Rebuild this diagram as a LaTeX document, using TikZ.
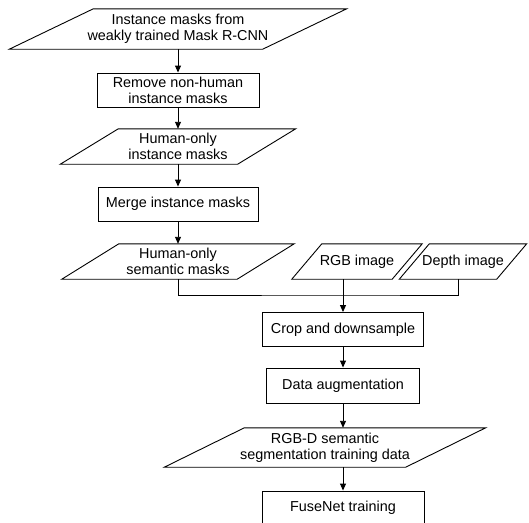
\documentclass[tikz,border=0pt]{standalone}
\usepackage{fontspec}
\setmainfont{Liberation Sans}
\usetikzlibrary{arrows.meta}

\begin{document}
\begin{tikzpicture}[x=1pt,y=1pt,
  every node/.style={font=\fontsize{14.4}{16}\selectfont, align=center, inner sep=0pt},
  procbox/.style={draw, line width=0.9pt, minimum width=#1, minimum height=34pt},
  databox/.style={minimum width=#1, minimum height=35pt},
  flow/.style={line width=0.9pt, -{Triangle[length=7pt,width=6pt]}}]
\useasboundingbox (0,0) rectangle (529,-522);
\clip (0,0) rectangle (529,-522);

% left column
\node[databox=253, minimum height=40pt] (masks) at (178,-29) {Instance masks from\\weakly trained Mask R-CNN};
\node[procbox=162] (remove) at (178,-90) {Remove non-human\\instance masks};
\node[databox=177] (human) at (178,-146.5) {Human-only\\instance masks};
\node[procbox=160] (merge) at (178,-204) {Merge instance masks};
\node[databox=175] (semantic) at (178,-261.5) {Human-only\\semantic masks};

% inputs on the right
\node[databox=100] (rgb) at (357,-261.5) {RGB image};
\node[databox=97] (depth) at (463,-261.5) {Depth image};

% right column
\node[procbox=161] (crop) at (343,-329.5) {Crop and downsample};
\node[procbox=153, minimum height=35pt] (augment) at (343,-385.5) {Data augmentation};
\node[databox=241, minimum height=39pt] (rgbd) at (325,-447.5) {RGB-D semantic\\segmentation training data};
\node[procbox=162] (fusenet) at (343,-508) {FuseNet training};

% data shapes
\foreach \n/\s in {masks/42,human/29,semantic/28.5,rgb/15,depth/15,rgbd/40}{
  \draw[line width=0.9pt] ([xshift=-\s pt]\n.south west) -- ([xshift=-\s pt]\n.south east)
    -- ([xshift=\s pt]\n.north east) -- ([xshift=\s pt]\n.north west) -- cycle;
}

\coordinate (join) at (343,-295);

\draw[flow] (masks) -- (remove);
\draw[flow] (remove) -- (human);
\draw[flow] (human) -- (merge);
\draw[flow] (merge) -- (semantic);
\draw[line width=0.9pt] (semantic.south) |- (join) -| ([xshift=-5pt]depth.south);
\draw[flow] (rgb.south -| crop.north) -- (crop.north);
\draw[flow] (crop) -- (augment);
\draw[flow] (augment.south) -- (augment.south |- rgbd.north);
\draw[flow] (rgbd.south -| fusenet.north) -- (fusenet.north);
\end{tikzpicture}
\end{document}
